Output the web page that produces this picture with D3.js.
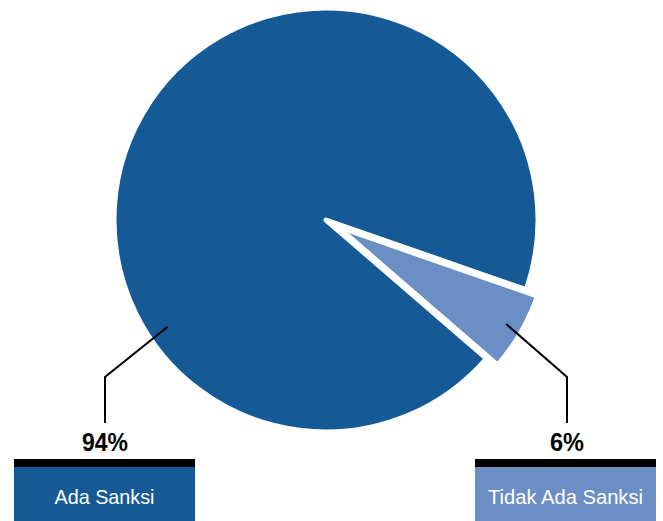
<!DOCTYPE html>
<html lang="id">
<head>
    <meta charset="UTF-8">
    <title>Sanksi</title>
    <style>
        body {
            margin: 0;
            background-color: #fff;
        }
        svg {
            display: block;
        }
        .pct {
            font-family: "Liberation Sans", Arial, sans-serif;
            font-weight: bold;
            font-size: 25px;
            fill: #000;
        }
        .box-label {
            font-family: "Liberation Sans", Arial, sans-serif;
            font-size: 21px;
            fill: #fff;
        }
    </style>
    <script src="https://d3js.org/d3.v7.min.js"></script>
</head>
<body>
    <svg id="chart" width="663" height="521"></svg>
    <script>
        // data
        const categories = ["Ada Sanksi", "Tidak Ada Sanksi"];
        const values = [94, 6];
        const pctLabels = ["94%", "6%"];

        const colors = ["#155a96", "#6b8fc4"];

        const svg = d3.select("#chart");
        const cx = 326, cy = 220, radius = 212;

        // the small slice sits at about 120deg (clockwise from top)
        const smallMid = 120 * Math.PI / 180;
        const smallSpan = values[1] / d3.sum(values) * 2 * Math.PI;
        const start = smallMid + smallSpan / 2;

        const pie = d3.pie()
            .sort(null)
            .value(d => d)
            .startAngle(start)
            .endAngle(start + 2 * Math.PI);

        const arcs = pie(values);
        const arc = d3.arc().innerRadius(0).outerRadius(radius);
        const explode = [0, 13];

        const g = svg.append("g").attr("transform", `translate(${cx},${cy})`);

        g.selectAll("path")
            .data(arcs)
            .enter().append("path")
            .attr("d", arc)
            .attr("fill", (d, i) => colors[i])
            .attr("stroke", "#fff")
            .attr("stroke-width", 5)
            .attr("stroke-linejoin", "round")
            .attr("transform", (d, i) => {
                const a = (d.startAngle + d.endAngle) / 2;
                const [x, y] = d3.pointRadial(a, explode[i]);
                return `translate(${x},${y})`;
            });

        // label boxes along the bottom
        const boxX = [14, 475], boxW = 181;
        const barTop = 459, barH = 8, boxBottom = 521;

        // where the leader lines touch the pie (angle, radius)
        const leaderStart = [[236 * Math.PI / 180, 191], [smallMid, 195]];
        const leaderX = [105, 567];
        const elbowY = 377, leaderEnd = 423;
        // condensed look of the original type
        const pctWidth = [46, 34];
        const labelWidth = [100, 155];

        const lines = svg.append("g");
        categories.forEach((c, i) => {
            const [px, py] = d3.pointRadial(leaderStart[i][0], leaderStart[i][1] + explode[i]);
            lines.append("polyline")
                .attr("points", [[cx + px, cy + py], [leaderX[i], elbowY], [leaderX[i], leaderEnd]].map(p => p.join(",")).join(" "))
                .attr("fill", "none")
                .attr("stroke", "#000")
                .attr("stroke-width", 2);

            svg.append("text")
                .attr("class", "pct")
                .attr("x", leaderX[i])
                .attr("y", 451)
                .attr("text-anchor", "middle")
                .attr("textLength", pctWidth[i])
                .attr("lengthAdjust", "spacingAndGlyphs")
                .text(pctLabels[i]);

            svg.append("rect")
                .attr("x", boxX[i]).attr("y", barTop)
                .attr("width", boxW).attr("height", barH)
                .attr("fill", "#000");

            svg.append("rect")
                .attr("x", boxX[i]).attr("y", barTop + barH)
                .attr("width", boxW).attr("height", boxBottom - barTop - barH)
                .attr("fill", colors[i]);

            svg.append("text")
                .attr("class", "box-label")
                .attr("x", boxX[i] + boxW / 2)
                .attr("y", 504)
                .attr("text-anchor", "middle")
                .attr("textLength", labelWidth[i])
                .attr("lengthAdjust", "spacingAndGlyphs")
                .text(c);
        });
    </script>
</body>
</html>
